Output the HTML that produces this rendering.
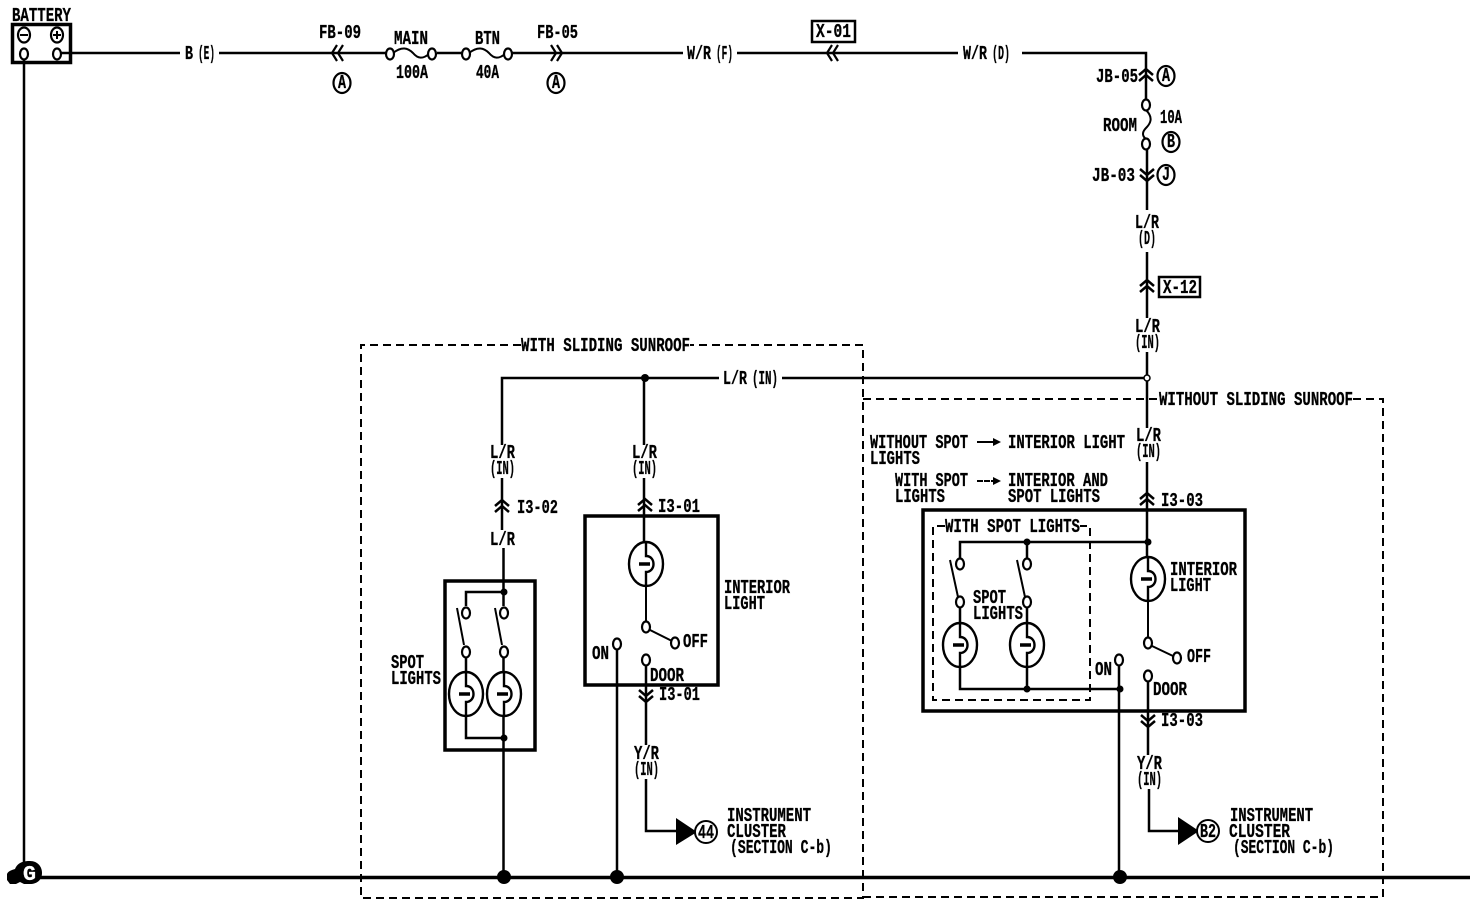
<!DOCTYPE html>
<html><head><meta charset="utf-8"><style>
html,body{margin:0;padding:0;background:#fff;width:1474px;height:912px;overflow:hidden}
svg{display:block}
text{font-family:"Liberation Mono",monospace;font-weight:bold;font-size:19px;fill:#000;stroke:#000;stroke-width:.3px}
.w{fill:none;stroke:#000;stroke-width:2.5}
.t{fill:none;stroke:#000;stroke-width:2}
.bx{fill:none;stroke:#000;stroke-width:3.5}
.d{fill:none;stroke:#000;stroke-width:2;stroke-dasharray:8 5}
.c{fill:#fff;stroke:#000;stroke-width:2.2}
</style></head><body>
<svg width="1474" height="912" viewBox="0 0 1474 912" xmlns="http://www.w3.org/2000/svg">
<defs>
<g id="bulb"><ellipse cx="0" cy="0" rx="17" ry="22" fill="#fff" stroke="#000" stroke-width="2.4"/><path d="M0,-22V-8C10,-8 10,8 0,8V22" fill="none" stroke="#000" stroke-width="2.4"/><path d="M-7,0H4" stroke="#000" stroke-width="3.5"/></g>
<g id="up"><path d="M-7,-1L0,-7L7,-1M-7,5L0,-1L7,5" fill="none" stroke="#000" stroke-width="2.5"/></g>
<g id="dn"><path d="M-7,-5L0,1L7,-5M-7,1L0,7L7,1" fill="none" stroke="#000" stroke-width="2.5"/></g>
<g id="lf"><path d="M-1,-8L-6,0L-1,8M5,-8L0,0L5,8" fill="none" stroke="#000" stroke-width="2.2"/></g>
<g id="rt"><path d="M1,-8L6,0L1,8M-5,-8L0,0L-5,8" fill="none" stroke="#000" stroke-width="2.2"/></g>
<ellipse id="o" cx="0" cy="0" rx="4" ry="5.5" fill="#fff" stroke="#000" stroke-width="2.2"/>
</defs>

<!-- dashed boxes -->
<path class="d" d="M521,345H361V898H863V345H690"/>
<path class="d" d="M863,399H1159M1353,399H1383V897H863"/>
<path class="d" d="M945,526H933V700H1090V526H1080"/>

<!-- battery -->
<rect class="bx" x="12.5" y="24.5" width="58" height="38"/>
<ellipse cx="24" cy="35" rx="6" ry="7.5" fill="#fff" stroke="#000" stroke-width="2.2"/>
<path d="M20,35H28" stroke="#000" stroke-width="2"/>
<ellipse cx="57" cy="35" rx="6" ry="7.5" fill="#fff" stroke="#000" stroke-width="2.2"/>
<path d="M53,35H61M57,31V39" stroke="#000" stroke-width="2"/>
<use href="#o" x="24" y="54"/><use href="#o" x="57" y="54"/>
<path class="w" d="M24,60V868"/>
<path class="w" d="M61,53H180M219,53H386"/>
<path class="w" d="M437,53H462M512,53H683M737,53H958M1022,53H1146V99"/>
<path class="t" d="M393,53C402,46 408,48 413,53C418,59 423,59 429,54" stroke-width="2.6"/>
<use href="#o" x="390" y="54"/><use href="#o" x="432" y="54"/>
<path class="t" d="M469,53C478,46 484,48 489,53C494,59 499,59 505,54" stroke-width="2.6"/>
<use href="#o" x="466" y="54"/><use href="#o" x="508" y="54"/>
<use href="#lf" x="338" y="53"/><use href="#rt" x="556" y="53"/><use href="#lf" x="833" y="53"/>
<ellipse class="c" cx="342" cy="83" rx="8.5" ry="10"/><ellipse class="c" cx="556" cy="83" rx="8.5" ry="10"/>
<rect x="812" y="21" width="43" height="21" fill="#fff" stroke="#000" stroke-width="2.5"/>

<!-- right feed -->
<use href="#up" x="1146" y="76"/>
<path class="t" d="M1146,110C1154,118 1150,124 1146,128C1142,132 1142,136 1146,139"/>
<use href="#o" x="1146" y="105"/><use href="#o" x="1146" y="144"/>
<path class="w" d="M1147,150V210M1147,252V318M1147,352V428M1147,462V562"/>
<use href="#dn" x="1147" y="174"/><use href="#up" x="1147" y="287"/><use href="#up" x="1147" y="500"/>
<ellipse class="c" cx="1166" cy="76" rx="8.5" ry="10"/><ellipse class="c" cx="1171" cy="142" rx="8.5" ry="10"/><ellipse class="c" cx="1166" cy="175" rx="8.5" ry="10"/>
<rect x="1159" y="277" width="41" height="20" fill="#fff" stroke="#000" stroke-width="2.5"/>
<circle cx="1147" cy="378" r="3" fill="#fff" stroke="#000" stroke-width="1.5"/>

<!-- horizontal to left -->
<path class="w" d="M719,378H502V445M782,378H1144M502,478V530M503.500,548V606M503.500,658V672M503.500,716V878"/>
<circle cx="645" cy="378" r="4"/>
<path class="w" d="M644,378V445M644,478V545"/>
<use href="#up" x="502" y="507"/><use href="#up" x="645" y="506"/>

<!-- spot lights left -->
<rect class="bx" x="445" y="581" width="90" height="169"/>
<path class="w" d="M466,606V592H504"/>
<circle cx="504" cy="592" r="3.5"/>
<path class="t" d="M457,608L464,645M495,608L502,645"/>
<use href="#o" x="466" y="613"/><use href="#o" x="504" y="613"/><use href="#o" x="466" y="652"/><use href="#o" x="504" y="652"/>
<path class="w" d="M466,658V672M466,716V738H504"/>
<use href="#bulb" x="466" y="694"/><use href="#bulb" x="504" y="694"/>
<circle cx="504" cy="738" r="3.5"/>

<!-- interior left -->
<rect class="bx" x="585" y="516" width="133" height="169"/>
<use href="#bulb" x="646" y="564"/>
<path class="t" d="M646,586V622M650,630L672,641"/>
<use href="#o" x="646" y="627"/><use href="#o" x="675" y="643"/><use href="#o" x="646" y="660"/><use href="#o" x="617" y="644"/>
<path class="w" d="M646,666V745M617,650V878M646,779V831H680"/>
<use href="#dn" x="646" y="695"/>
<path d="M676,818L697,832L676,845Z"/>
<circle cx="706" cy="832" r="11" fill="#fff" stroke="#000" stroke-width="2"/>

<!-- right box -->
<rect class="bx" x="923" y="510" width="322" height="201"/>
<path class="w" d="M960,558V542H1148M1027,542V558M960,608V623M1027,608V623M960,667V689H1120M1027,667V689M1119,666V878"/>
<circle cx="1027" cy="542" r="3.5"/><circle cx="1148" cy="542" r="3.5"/><circle cx="1027" cy="689" r="3.5"/><circle cx="1120" cy="689" r="3.5"/>
<path class="t" d="M950,560L958,597M1017,560L1025,597"/>
<use href="#o" x="960" y="564"/><use href="#o" x="1027" y="564"/><use href="#o" x="960" y="602"/><use href="#o" x="1027" y="602"/>
<use href="#bulb" x="960" y="645"/><use href="#bulb" x="1027" y="645"/><use href="#bulb" x="1148" y="579"/>
<path class="t" d="M1148,601V638M1152,646L1173,656"/>
<use href="#o" x="1148" y="643"/><use href="#o" x="1177" y="658"/><use href="#o" x="1148" y="676"/><use href="#o" x="1119" y="660"/>
<path class="w" d="M1148,682V755M1149,789V831H1182"/>
<use href="#dn" x="1148" y="720"/>
<path d="M1178,817L1199,831L1178,845Z"/>
<circle cx="1208" cy="831" r="11" fill="#fff" stroke="#000" stroke-width="2"/>

<!-- small arrows -->
<path class="t" d="M977,442H995"/><path d="M993,438L1001,442L993,446Z"/>
<path class="t" d="M977,481H995" stroke-dasharray="6 1"/><path d="M993,477L1001,481L993,485Z"/>

<!-- ground -->
<path d="M28,877.500H1470" stroke="#000" stroke-width="3.500" fill="none"/>
<circle cx="504" cy="877" r="7"/><circle cx="617" cy="877" r="7"/><circle cx="1120" cy="877" r="7"/>
<path d="M7,880V874C8,871 12,870 15,869C18,862 24,861 30,861C38,861 42,867 42,873C42,880 37,884 30,884H24L20,882L16,884H10Z"/>
<text x="23" y="880" textLength="13" lengthAdjust="spacingAndGlyphs" style="fill:#fff;stroke:#fff;font-size:21px">G</text>

<!-- labels -->
<text x="12" y="21" textLength="59" lengthAdjust="spacingAndGlyphs">BATTERY</text>
<text x="185" y="59" textLength="8" lengthAdjust="spacingAndGlyphs">B</text>
<text x="198" y="59" textLength="17" lengthAdjust="spacingAndGlyphs">(E)</text>
<text x="319" y="38" textLength="42" lengthAdjust="spacingAndGlyphs">FB-09</text>
<text x="338" y="88" textLength="8" lengthAdjust="spacingAndGlyphs">A</text>
<text x="394" y="44" textLength="34" lengthAdjust="spacingAndGlyphs">MAIN</text>
<text x="396" y="78" textLength="32" lengthAdjust="spacingAndGlyphs">100A</text>
<text x="475" y="44" textLength="25" lengthAdjust="spacingAndGlyphs">BTN</text>
<text x="476" y="78" textLength="23" lengthAdjust="spacingAndGlyphs">40A</text>
<text x="537" y="38" textLength="41" lengthAdjust="spacingAndGlyphs">FB-05</text>
<text x="552" y="88" textLength="8" lengthAdjust="spacingAndGlyphs">A</text>
<text x="687" y="59" textLength="24" lengthAdjust="spacingAndGlyphs">W/R</text>
<text x="716" y="59" textLength="17" lengthAdjust="spacingAndGlyphs">(F)</text>
<text x="816" y="37" textLength="35" lengthAdjust="spacingAndGlyphs">X-01</text>
<text x="963" y="59" textLength="24" lengthAdjust="spacingAndGlyphs">W/R</text>
<text x="992" y="59" textLength="18" lengthAdjust="spacingAndGlyphs">(D)</text>
<text x="1096" y="82" textLength="42" lengthAdjust="spacingAndGlyphs">JB-05</text>
<text x="1162" y="81" textLength="8" lengthAdjust="spacingAndGlyphs">A</text>
<text x="1103" y="131" textLength="34" lengthAdjust="spacingAndGlyphs">ROOM</text>
<text x="1160" y="123" textLength="22" lengthAdjust="spacingAndGlyphs">10A</text>
<text x="1167" y="147" textLength="8" lengthAdjust="spacingAndGlyphs">B</text>
<text x="1092" y="181" textLength="43" lengthAdjust="spacingAndGlyphs">JB-03</text>
<text x="1162" y="180" textLength="8" lengthAdjust="spacingAndGlyphs">J</text>
<text x="1135" y="228" textLength="24" lengthAdjust="spacingAndGlyphs">L/R</text>
<text x="1138" y="244" textLength="18" lengthAdjust="spacingAndGlyphs">(D)</text>
<text x="1163" y="293" textLength="34" lengthAdjust="spacingAndGlyphs">X-12</text>
<text x="1135" y="332" textLength="25" lengthAdjust="spacingAndGlyphs">L/R</text>
<text x="1135" y="348" textLength="25" lengthAdjust="spacingAndGlyphs">(IN)</text>
<text x="521" y="351" textLength="169" lengthAdjust="spacingAndGlyphs">WITH SLIDING SUNROOF</text>
<text x="1159" y="405" textLength="194" lengthAdjust="spacingAndGlyphs">WITHOUT SLIDING SUNROOF</text>
<text x="723" y="384" textLength="24" lengthAdjust="spacingAndGlyphs">L/R</text>
<text x="752" y="384" textLength="26" lengthAdjust="spacingAndGlyphs">(IN)</text>
<text x="490" y="458" textLength="25" lengthAdjust="spacingAndGlyphs">L/R</text>
<text x="490" y="474" textLength="25" lengthAdjust="spacingAndGlyphs">(IN)</text>
<text x="517" y="513" textLength="41" lengthAdjust="spacingAndGlyphs">I3-02</text>
<text x="490" y="545" textLength="25" lengthAdjust="spacingAndGlyphs">L/R</text>
<text x="632" y="458" textLength="25" lengthAdjust="spacingAndGlyphs">L/R</text>
<text x="632" y="474" textLength="25" lengthAdjust="spacingAndGlyphs">(IN)</text>
<text x="658" y="512" textLength="42" lengthAdjust="spacingAndGlyphs">I3-01</text>
<text x="724" y="593" textLength="66" lengthAdjust="spacingAndGlyphs">INTERIOR</text>
<text x="724" y="609" textLength="41" lengthAdjust="spacingAndGlyphs">LIGHT</text>
<text x="391" y="668" textLength="33" lengthAdjust="spacingAndGlyphs">SPOT</text>
<text x="391" y="684" textLength="50" lengthAdjust="spacingAndGlyphs">LIGHTS</text>
<text x="592" y="659" textLength="17" lengthAdjust="spacingAndGlyphs">ON</text>
<text x="683" y="647" textLength="25" lengthAdjust="spacingAndGlyphs">OFF</text>
<text x="650" y="681" textLength="34" lengthAdjust="spacingAndGlyphs">DOOR</text>
<text x="659" y="700" textLength="41" lengthAdjust="spacingAndGlyphs">I3-01</text>
<text x="634" y="759" textLength="25" lengthAdjust="spacingAndGlyphs">Y/R</text>
<text x="634" y="775" textLength="25" lengthAdjust="spacingAndGlyphs">(IN)</text>
<text x="727" y="821" textLength="84" lengthAdjust="spacingAndGlyphs">INSTRUMENT</text>
<text x="727" y="837" textLength="59" lengthAdjust="spacingAndGlyphs">CLUSTER</text>
<text x="730" y="853" textLength="102" lengthAdjust="spacingAndGlyphs">(SECTION C-b)</text>
<text x="698" y="838" textLength="16" lengthAdjust="spacingAndGlyphs">44</text>
<text x="870" y="448" textLength="98" lengthAdjust="spacingAndGlyphs">WITHOUT SPOT</text>
<text x="1008" y="448" textLength="117" lengthAdjust="spacingAndGlyphs">INTERIOR LIGHT</text>
<text x="870" y="464" textLength="50" lengthAdjust="spacingAndGlyphs">LIGHTS</text>
<text x="895" y="486" textLength="73" lengthAdjust="spacingAndGlyphs">WITH SPOT</text>
<text x="1008" y="486" textLength="100" lengthAdjust="spacingAndGlyphs">INTERIOR AND</text>
<text x="895" y="502" textLength="50" lengthAdjust="spacingAndGlyphs">LIGHTS</text>
<text x="1008" y="502" textLength="92" lengthAdjust="spacingAndGlyphs">SPOT LIGHTS</text>
<text x="1136" y="441" textLength="25" lengthAdjust="spacingAndGlyphs">L/R</text>
<text x="1136" y="457" textLength="25" lengthAdjust="spacingAndGlyphs">(IN)</text>
<text x="1161" y="506" textLength="42" lengthAdjust="spacingAndGlyphs">I3-03</text>
<text x="945" y="532" textLength="135" lengthAdjust="spacingAndGlyphs">WITH SPOT LIGHTS</text>
<text x="973" y="603" textLength="33" lengthAdjust="spacingAndGlyphs">SPOT</text>
<text x="973" y="619" textLength="50" lengthAdjust="spacingAndGlyphs">LIGHTS</text>
<text x="1170" y="575" textLength="67" lengthAdjust="spacingAndGlyphs">INTERIOR</text>
<text x="1170" y="591" textLength="41" lengthAdjust="spacingAndGlyphs">LIGHT</text>
<text x="1187" y="662" textLength="24" lengthAdjust="spacingAndGlyphs">OFF</text>
<text x="1095" y="675" textLength="17" lengthAdjust="spacingAndGlyphs">ON</text>
<text x="1153" y="695" textLength="34" lengthAdjust="spacingAndGlyphs">DOOR</text>
<text x="1161" y="726" textLength="42" lengthAdjust="spacingAndGlyphs">I3-03</text>
<text x="1137" y="769" textLength="25" lengthAdjust="spacingAndGlyphs">Y/R</text>
<text x="1137" y="785" textLength="25" lengthAdjust="spacingAndGlyphs">(IN)</text>
<text x="1200" y="837" textLength="16" lengthAdjust="spacingAndGlyphs">B2</text>
<text x="1230" y="821" textLength="83" lengthAdjust="spacingAndGlyphs">INSTRUMENT</text>
<text x="1229" y="837" textLength="61" lengthAdjust="spacingAndGlyphs">CLUSTER</text>
<text x="1233" y="853" textLength="101" lengthAdjust="spacingAndGlyphs">(SECTION C-b)</text>
</svg>
</body></html>
